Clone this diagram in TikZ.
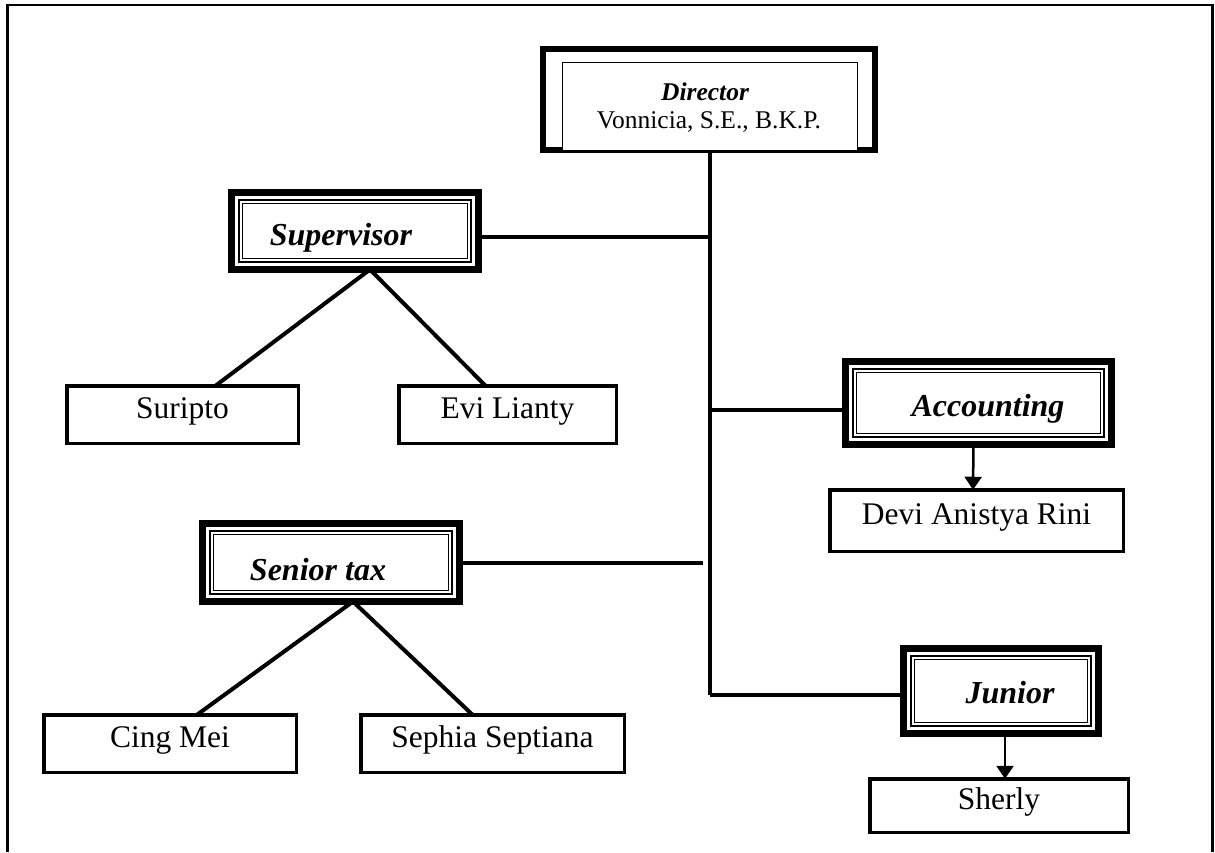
\documentclass[tikz,border=0pt]{standalone}
\usepackage{fontspec}
\setmainfont{Liberation Serif}
\usetikzlibrary{arrows.meta,calc}
\newcommand\namefont{\fontsize{31.5}{36}\selectfont}
\newcommand\rolefont{\fontsize{32}{38}\selectfont\bfseries\itshape}
\newcommand\dirfont{\fontsize{25.5}{30}\selectfont}
\tikzset{
  thickframe/.style={draw=black,line width=7pt,inner sep=0pt,outer sep=0pt,fill=white},
  thinframe/.style={draw=black,line width=1.1pt},
  namebox/.style={draw=black,line width=3.5pt,inner sep=0pt,outer sep=0pt,fill=white,font=\namefont,text height=0.72em,text depth=0pt},
  rolelbl/.style={font=\rolefont,anchor=base,inner sep=0pt},
  conn/.style={line width=4pt},
  arr/.style={line width=2.5pt,-{Triangle[width=17pt,length=13pt]}},
  pageframe/.style={line width=2.5pt},
}
% #1 name, #2..#5 centre line of the thick border: left, top, right, bottom (px, y down)
\newcommand\TriBox[5]{%
  \node[thickframe,minimum width={#4-#2},minimum height={#5-#3}] (#1) at ({(#2+#4)/2},{(#3+#5)/2}) {};
  \draw[thinframe] ([xshift=7.5pt,yshift=-7.5pt]#1.north west) rectangle ([xshift=-7.5pt,yshift=7.5pt]#1.south east);
  \draw[thinframe] ([xshift=11pt,yshift=-11pt]#1.north west) rectangle ([xshift=-11pt,yshift=11pt]#1.south east);
}
\begin{document}
\begin{tikzpicture}[x=1pt,y=-1pt]
\useasboundingbox (0,0) rectangle (1215,852);
% page frame
\draw[pageframe] (7.5,852) -- (7.5,5) -- (1212.5,5) -- (1212.5,852);

% Director
\node[draw=black,line width=6pt,inner sep=0pt,outer sep=0pt,minimum width=332.5,minimum height=101] (dirframe) at (708.75,99) {};
\node[draw=black,line width=1.3pt,fill=white,inner sep=0pt,outer sep=0pt,minimum width=294.6,minimum height=88.3] (dir) at (710,106.85) {};
\node[font=\dirfont\bfseries\itshape,anchor=base,inner sep=0pt] (dirt) at (705,100) {Director};
\node[font=\dirfont,anchor=base,inner sep=0pt] (dirn) at (709,128) {Vonnicia, S.E., B.K.P.};

% role boxes
\TriBox{sup}{231.5}{192.5}{478.5}{269.5}
\TriBox{acc}{845.5}{361.5}{1111.5}{444.5}
\TriBox{sen}{202.5}{523.5}{459.5}{601.5}
\TriBox{jun}{903.5}{648.5}{1098.5}{733.5}
\node[rolelbl] (supt) at (341,245) {Supervisor};
\node[rolelbl] (acct) at (988,416) {Accounting};
\node[rolelbl] (sent) at (318,580) {Senior tax};
\node[rolelbl] (junt) at (1010,703) {Junior};

% name boxes
\node[namebox,minimum width=217.5,minimum height=57.5] (evi) at (507.5,414.5) {Evi Lianty};
\node[namebox,minimum width=231.5,minimum height=57.5] (sur) at (182.5,414.5) {Suripto};
\node[namebox,minimum width=252.5,minimum height=57.5] (cing) at (170,743.5) {Cing Mei};
\node[namebox,minimum width=263.5,minimum height=57.5] (seph) at (492.5,743.5) {Sephia Septiana};
\node[namebox,minimum width=293.5,minimum height=61.5] (devi) at (976.5,520.5) {Devi Anistya Rini};
\node[namebox,minimum width=258.5,minimum height=53.5,text height=0.88em] (sher) at (999,805.5) {Sherly};

% trunk and branches
\coordinate (trunkEnd) at (710,695);
\coordinate (senEnd) at (703,562);
\draw[conn] (dir.south) -- (trunkEnd);
\draw[conn] ([yshift=-6pt]sup.east) -- ([yshift=-6pt]sup.east -| dir.south);
\draw[conn] ([yshift=-7pt]acc.west) -- ([yshift=-7pt]acc.west -| dir.south);
\draw[conn] (sen.east) -- (sen.east -| senEnd);
\draw[conn] (jun.west |- trunkEnd) -- (trunkEnd);

% subordinates
\draw[conn] ([xshift=15pt]sup.south) -- ([xshift=33pt]sur.north);
\draw[conn] ([xshift=15pt]sup.south) -- ([xshift=-22pt]evi.north);
\draw[conn] ([xshift=22pt]sen.south) -- ([xshift=27pt]cing.north);
\draw[conn] ([xshift=22pt]sen.south) -- ([xshift=-20pt]seph.north);
\draw[arr] ([xshift=-5pt]acc.south) -- ([xshift=-3.5pt]devi.north);
\draw[arr] ([xshift=4pt]jun.south) -- ([xshift=6pt]sher.north);
\end{tikzpicture}
\end{document}
